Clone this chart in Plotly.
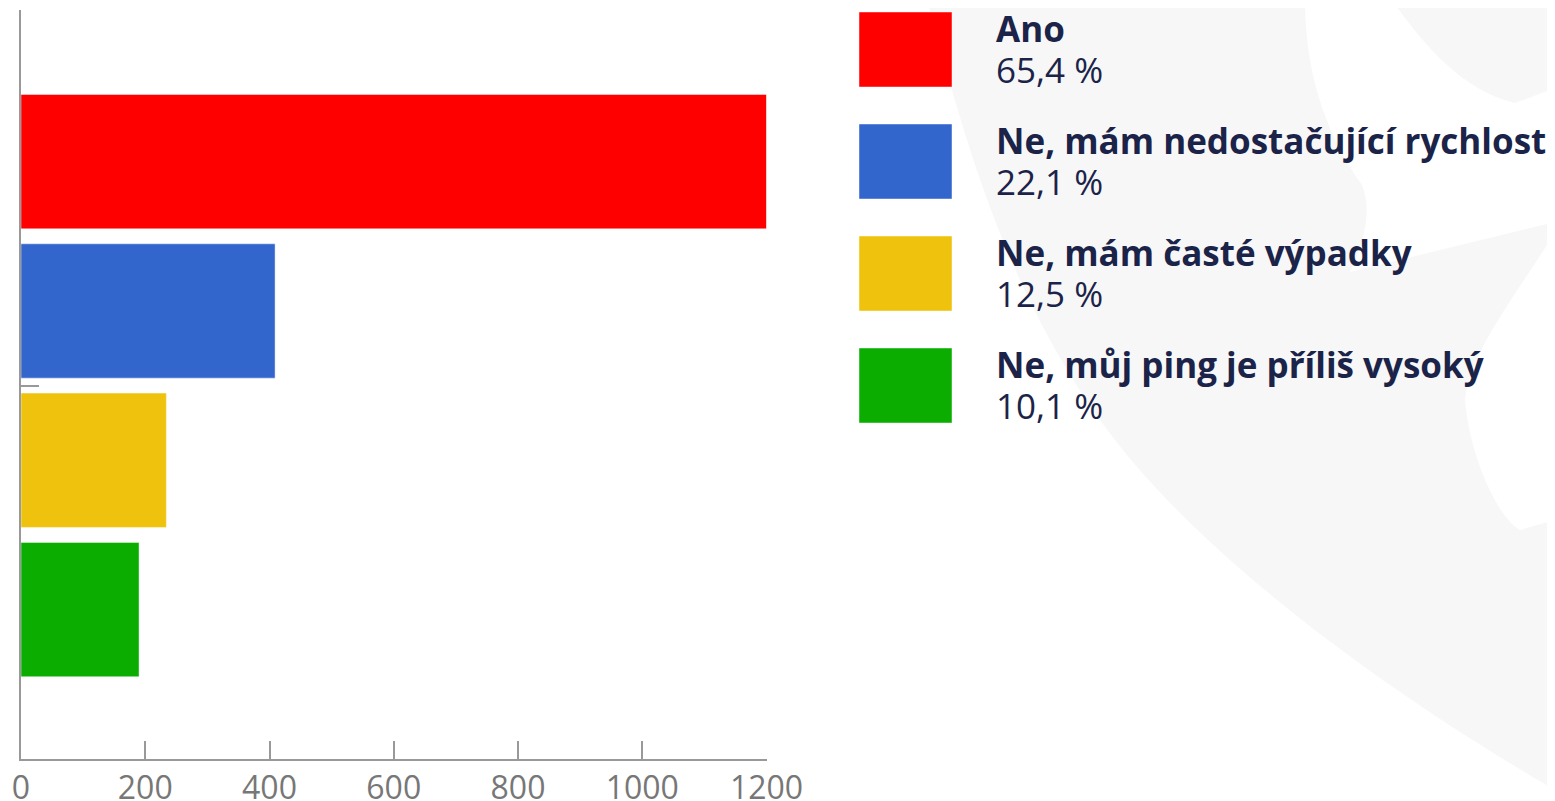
import plotly.graph_objects as go

# survey answers (count, share from the legend)
categories = ["Ano", "Ne, mám nedostačující rychlost", "Ne, mám časté výpadky", "Ne, můj ping je příliš vysoký"]
counts = [1200, 409, 234, 190]
shares = [65.4, 22.1, 12.5, 10.1]
colors = ["#fe0000", "#3366cc", "#efc30d", "#0aad00"]

x_ticks = [0, 200, 400, 600, 800, 1000, 1200]

# the page body adds an 8px margin, so the figure is drawn that much smaller
PAGE_W, PAGE_H, OFF = 1555, 801, 8
W, H = PAGE_W - OFF, PAGE_H - OFF
text_color = "#1b2448"
axis_color = "#999999"
font = "Open Sans"


def fmt_share(v):
    return f"{v:.1f}".replace(".", ",") + " %"


fig = go.Figure()

fig.add_trace(
    go.Bar(
        x=counts, y=categories,
        orientation="h",
        width=0.9,
        marker=dict(color=colors, line=dict(color="rgba(255,255,255,0.45)", width=1)),
        showlegend=False,
        hoverinfo="x+y",
    )
)

# invisible overlay axes in page pixels, used for the legend and the watermark
fig.add_trace(go.Scatter(x=[OFF, PAGE_W], y=[OFF, PAGE_H], xaxis="x2", yaxis="y2", mode="markers",
                         marker=dict(opacity=0), showlegend=False, hoverinfo="skip"))

wm = "#f7f7f8"
shapes = [
    # faint background watermark
    dict(type="path", xref="x2", yref="y2", layer="below", fillcolor=wm, line=dict(width=0),
         path="M 927,0 L 1555,0 L 1555,790 C 1400,700 1200,560 1100,420 C 1000,280 960,120 927,0 Z"),
    dict(type="path", xref="x2", yref="y2", layer="below", fillcolor="white", line=dict(width=0),
         path=("M 1305,0 L 1392,0 C 1420,40 1460,90 1515,103 L 1555,88 L 1555,222 L 1350,272 "
               "C 1365,240 1372,210 1362,185 C 1330,140 1305,80 1305,0 Z")),
    dict(type="path", xref="x2", yref="y2", layer="below", fillcolor="white", line=dict(width=0),
         path="M 1555,232 C 1520,290 1470,350 1465,400 C 1470,460 1500,520 1520,530 L 1555,520 Z"),
]

annotations = []
for i, (cat, share, col) in enumerate(zip(categories, shares, colors)):
    top = 12 + 112 * i
    shapes.append(dict(type="rect", xref="x2", yref="y2", x0=859, x1=952, y0=top, y1=top + 75,
                       fillcolor=col, line=dict(color="rgba(255,255,255,0.45)", width=1)))
    annotations.append(dict(xref="x2", yref="y2", x=995, y=top + 16, xanchor="left", yanchor="middle",
                            text=f"<b>{cat}</b>", showarrow=False, borderpad=0,
                            font=dict(family=font, size=35, color=text_color)))
    annotations.append(dict(xref="x2", yref="y2", x=995, y=top + 57, xanchor="left", yanchor="middle",
                            text=fmt_share(share), showarrow=False, borderpad=0,
                            font=dict(family=font, size=35, color=text_color)))

fig.update_layout(
    width=W, height=H,
    margin=dict(l=0, r=0, t=0, b=0),
    paper_bgcolor="white",
    plot_bgcolor="rgba(0,0,0,0)",
    font=dict(family=font),
    xaxis=dict(
        domain=[(21 - OFF) / W, (766.5 - OFF) / W],
        range=[0, 1200],
        tickvals=x_ticks,
        ticks="inside", ticklen=18, tickwidth=2, tickcolor=axis_color,
        showline=True, linecolor=axis_color, linewidth=2,
        showgrid=False, zeroline=False,
        tickfont=dict(family=font, size=32, color="#777777"),
        automargin=False,
    ),
    yaxis=dict(
        domain=[(PAGE_H - 758.7) / H, (PAGE_H - 10) / H],
        categoryorder="array", categoryarray=categories,
        range=[3.999, -1.016],
        tickvals=[1.5], ticktext=[""],
        ticks="inside", ticklen=18, tickwidth=2, tickcolor=axis_color,
        showline=True, linecolor=axis_color, linewidth=2,
        showgrid=False, zeroline=False, showticklabels=False,
        automargin=False,
    ),
    xaxis2=dict(domain=[0, 1], range=[OFF, PAGE_W], visible=False, fixedrange=True),
    yaxis2=dict(domain=[0, 1], range=[PAGE_H, OFF], visible=False, fixedrange=True, anchor="x2"),
    shapes=shapes,
    annotations=annotations,
)

fig.write_html("out.html")
